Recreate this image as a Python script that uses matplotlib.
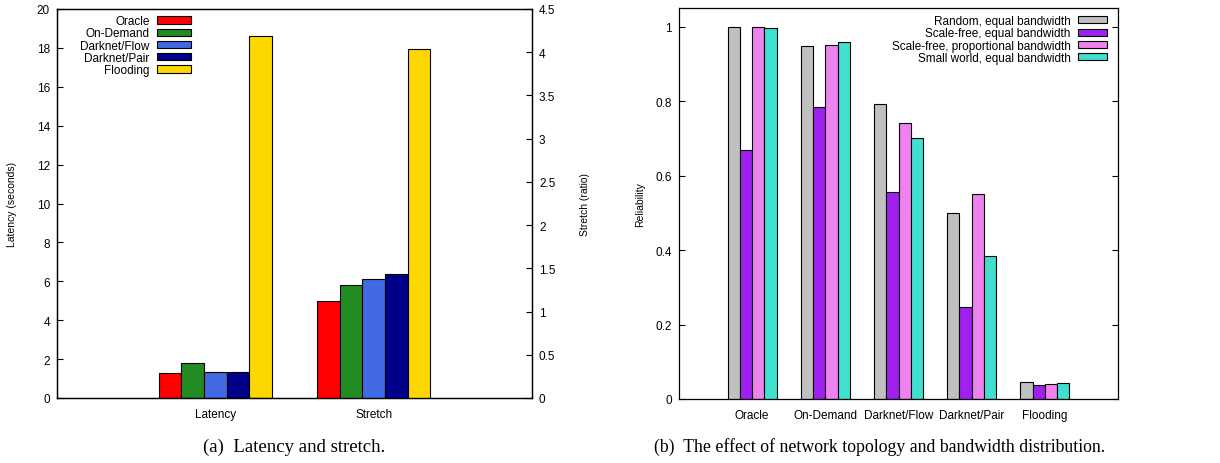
import numpy as np
import matplotlib
matplotlib.use("Agg")
import matplotlib.pyplot as plt
from matplotlib.ticker import FuncFormatter

# Panel (a): latency (left axis) and stretch (right axis) per routing scheme
schemes = ["Oracle", "On-Demand", "Darknet/Flow", "Darknet/Pair", "Flooding"]
scheme_colors = ["#FF0000", "#228B22", "#4169E1", "#00008B", "#FFD700"]
latency_sec = [1.27, 1.79, 1.33, 1.33, 18.62]
stretch_ratio = [1.12, 1.31, 1.38, 1.43, 4.04]
metric_labels = ["Latency", "Stretch"]

# Panel (b): reliability per scheme for each topology / bandwidth setup
topologies = ["Random, equal bandwidth", "Scale-free, equal bandwidth",
              "Scale-free, proportional bandwidth", "Small world, equal bandwidth"]
topo_colors = ["#C0C0C0", "#A020F0", "#EE82EE", "#40E0D0"]
rel_random_equal = [1.000, 0.947, 0.791, 0.499, 0.045]
rel_scalefree_equal = [0.670, 0.785, 0.556, 0.247, 0.038]
rel_scalefree_prop = [0.998, 0.951, 0.742, 0.551, 0.040]
rel_smallworld_equal = [0.997, 0.959, 0.701, 0.384, 0.043]

plt.rcParams["font.family"] = ["Liberation Sans", "DejaVu Sans"]
plt.rcParams["axes.linewidth"] = 0.9

fmt = FuncFormatter(lambda v, p: "%g" % round(v, 3))
TICK_FS = 8.5

fig = plt.figure(figsize=(12.2, 4.64), dpi=100)

# ---------------- panel (a) ----------------
ax = fig.add_axes([57 / 1220, 65 / 464, 475 / 1220, 389 / 464])
ax2 = ax.twinx()
w = 1.0 / 7
for j, (name, col) in enumerate(zip(schemes, scheme_colors)):
    off = (j - 2) * w
    ax.bar(0 + off, latency_sec[j], width=w, color=col, edgecolor="black",
           linewidth=0.8, label=name)
    ax2.bar(1 + off, stretch_ratio[j], width=w, color=col, edgecolor="black",
            linewidth=0.8)

ax.set_xlim(-1, 2)
ax.set_ylim(0, 20)
ax2.set_ylim(0, 4.5)
ax.set_yticks(np.arange(0, 21, 2))
ax2.set_yticks(np.arange(0, 4.51, 0.5))
ax.set_xticks([0, 1])
ax.set_xticklabels(metric_labels)
for a in (ax, ax2):
    a.yaxis.set_major_formatter(fmt)
    a.tick_params(axis="y", direction="in", length=4, width=0.8,
                  labelsize=TICK_FS, pad=5)
ax.tick_params(axis="x", length=0, labelsize=TICK_FS, pad=7)

ax.set_ylabel("Latency (seconds)", fontsize=7.5)
ax.yaxis.set_label_coords(-0.084, 0.5)
ax2.set_ylabel("Stretch (ratio)", fontsize=7.5)
ax2.yaxis.set_label_coords(1.101, 0.5)

ax.legend(loc="upper right", bbox_to_anchor=(0.282, 0.984), markerfirst=False,
          frameon=False, fontsize=TICK_FS, handlelength=2.9, handleheight=0.55,
          handletextpad=0.6, labelspacing=0.02, borderpad=0, borderaxespad=0)

# ---------------- panel (b) ----------------
bx = fig.add_axes([679 / 1220, 64 / 464, 439 / 1220, 391 / 464])
series = [rel_random_equal, rel_scalefree_equal, rel_scalefree_prop, rel_smallworld_equal]
x = np.arange(len(schemes))
wb = 1.0 / 6
for j, (vals, col, name) in enumerate(zip(series, topo_colors, topologies)):
    bx.bar(x + (j - 1.5) * wb, vals, width=wb, color=col, edgecolor="black",
           linewidth=0.8, label=name)

bx.set_xlim(-1, 5)
bx.set_ylim(0, 1.05)
bx.set_yticks(np.arange(0, 1.01, 0.2))
bx.yaxis.set_major_formatter(fmt)
bx.set_xticks(x)
bx.set_xticklabels(schemes)
bx.tick_params(axis="y", direction="in", length=4, width=0.8, right=True,
               labelsize=TICK_FS, pad=5)
bx.tick_params(axis="x", length=0, labelsize=TICK_FS, pad=7)
bx.set_ylabel("Reliability", fontsize=7.5)
bx.yaxis.set_label_coords(-0.077, 0.5)

bx.legend(loc="upper right", bbox_to_anchor=(0.975, 0.982), markerfirst=False,
          frameon=False, fontsize=TICK_FS, handlelength=2.5, handleheight=0.55,
          handletextpad=0.6, labelspacing=0.02, borderpad=0, borderaxespad=0)

# sub-figure captions
cap_font = ["Liberation Serif", "DejaVu Serif"]
fig.text(294 / 1220, 1 - 447 / 464, "(a)  Latency and stretch.",
         ha="center", va="center", fontsize=13.5, family=cap_font)
fig.text(880 / 1220, 1 - 447 / 464,
         "(b)  The effect of network topology and bandwidth distribution.",
         ha="center", va="center", fontsize=12.8, family=cap_font)

fig.savefig("out.png", dpi=100)
